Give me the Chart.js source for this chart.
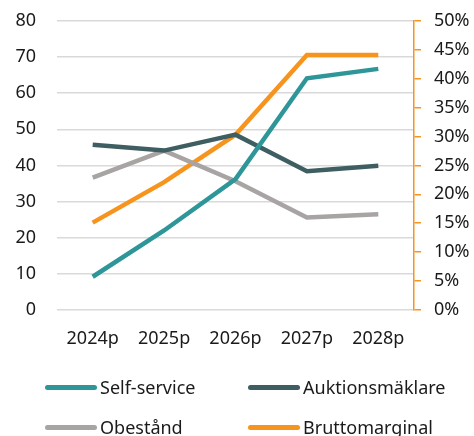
<!DOCTYPE html>
<html>
<head>
<meta charset="utf-8">
<script src="https://cdn.jsdelivr.net/npm/chart.js@4"></script>
<style>
  html, body { margin: 0; padding: 0; background: #fff; }
  #wrap { position: relative; width: 474px; height: 436px; overflow: hidden; }
  #cwrap { position: absolute; left: 0; top: -11px; width: 474px; height: 371px; }
  #legend { position: absolute; left: 0; top: 0; width: 474px; height: 436px; font-family: "Noto Sans", sans-serif; font-size: 18px; color: #1a1a1a; }
  .li { position: absolute; display: flex; align-items: center; white-space: nowrap; }
  .sw { width: 52px; height: 5px; border-radius: 3px; margin-right: 3px; }
</style>
</head>
<body>
<div id="wrap">
  <div id="cwrap"><canvas id="c"></canvas></div>
  <div id="legend"></div>
</div>
<script>
const categories = ["2024p", "2025p", "2026p", "2027p", "2028p"];
const selfService = [9.2, 22.0, 36.2, 64.1, 66.7];
const auktionsmaklare = [45.7, 44.1, 48.5, 38.4, 39.9];
const obestand = [36.6, 44.1, 35.6, 25.6, 26.5];
const bruttomarginal = [15.1, 22.1, 30.3, 44.1, 44.1];
const leftTicks = [0, 10, 20, 30, 40, 50, 60, 70, 80];
const rightTicks = [0, 5, 10, 15, 20, 25, 30, 35, 40, 45, 50];

const FONT = "'Noto Sans', sans-serif";
const datasets = [
  { label: "Self-service", data: selfService, borderColor: "#2E9699", yAxisID: "y" },
  { label: "Auktionsmäklare", data: auktionsmaklare, borderColor: "#3E5E61", yAxisID: "y" },
  { label: "Obestånd", data: obestand, borderColor: "#A7A4A3", yAxisID: "y" },
  { label: "Bruttomarginal", data: bruttomarginal, borderColor: "#F7941E", yAxisID: "y2" }
].map(d => Object.assign(d, { borderWidth: 4.5, pointRadius: 0, fill: false, tension: 0, borderJoinStyle: "miter" }));

new Chart(document.getElementById("c"), {
  type: "line",
  data: { labels: categories, datasets: datasets },
  options: {
    responsive: true,
    maintainAspectRatio: false,
    animation: false,
    layout: { padding: 0 },
    plugins: { legend: { display: false }, tooltip: { enabled: false } },
    scales: {
      x: {
        offset: true,
        grid: { display: false, drawTicks: false },
        border: { display: false },
        ticks: { color: "#1a1a1a", font: { family: FONT, size: 18 }, padding: 18, maxRotation: 0 },
        afterFit: s => { s.height = 50; }
      },
      y: {
        position: "left",
        min: 0, max: 80,
        afterBuildTicks: ax => { ax.ticks = leftTicks.map(v => ({ value: v })); },
        grid: { color: "#D9D9D9", lineWidth: 1.5, drawTicks: false },
        border: { display: false },
        ticks: { color: "#1a1a1a", font: { family: FONT, size: 18 }, padding: 21 },
        afterFit: s => { s.width = 57; }
      },
      y2: {
        position: "right",
        min: 0, max: 50,
        afterBuildTicks: ax => { ax.ticks = rightTicks.map(v => ({ value: v })); },
        grid: { drawOnChartArea: false, color: "#F7941E", tickLength: 7, lineWidth: 1.5 },
        border: { display: true, color: "#F7941E", width: 1.5 },
        ticks: { color: "#1a1a1a", font: { family: FONT, size: 18 }, padding: 13, callback: v => v + "%" },
        afterFit: s => { s.width = 60; }
      }
    }
  }
});

// HTML legend built from the datasets
const legendPos = [[45, 387], [248, 387], [45, 427], [248, 427]];
const lg = document.getElementById("legend");
datasets.forEach((d, i) => {
  const el = document.createElement("div");
  el.className = "li";
  el.style.left = legendPos[i][0] + "px";
  el.style.top = (legendPos[i][1] - 12) + "px";
  el.style.height = "24px";
  const sw = document.createElement("span");
  sw.className = "sw";
  sw.style.background = d.borderColor;
  const tx = document.createElement("span");
  tx.textContent = d.label;
  el.appendChild(sw); el.appendChild(tx);
  lg.appendChild(el);
});
</script>
</body>
</html>
